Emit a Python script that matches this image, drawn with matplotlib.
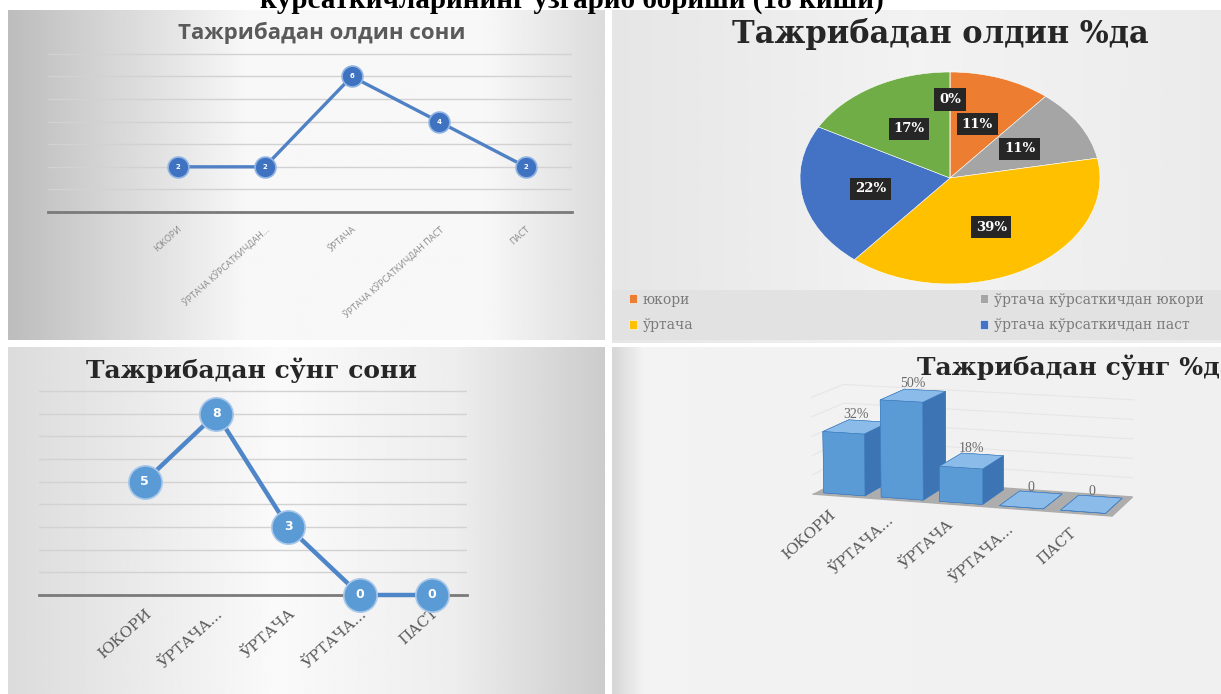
import numpy as np
import matplotlib.pyplot as plt
from matplotlib.patches import Rectangle

W, H = 1221, 694
SERIF = ['Liberation Serif', 'DejaVu Serif']
WIDE_SERIF = ['DejaVu Serif']
SANS = ['Open Sans', 'DejaVu Sans']

PAGE_TITLE = 'кўрсаткичларининг ўзгариб бориши (18 киши)'
levels_full = ['ЮКОРИ', 'ЎРТАЧА КЎРСАТКИЧДАН...', 'ЎРТАЧА', 'ЎРТАЧА КЎРСАТКИЧДАН ПАСТ', 'ПАСТ']
levels_short = ['ЮКОРИ', 'ЎРТАЧА...', 'ЎРТАЧА', 'ЎРТАЧА...', 'ПАСТ']

before_counts = [2, 2, 6, 4, 2]
after_counts = [5, 8, 3, 0, 0]

pie_names = ['юкори', 'ўртача кўрсаткичдан юкори', 'ўртача', 'ўртача кўрсаткичдан паст', 'паст', '']
pie_pct = [11, 11, 39, 22, 17, 0]
pie_colors = ['#ed7d31', '#a5a5a5', '#ffc000', '#4472c4', '#70ad47', '#255e91']

after_pct = [32, 50, 18, 0, 0]
after_pct_text = ['32%', '50%', '18%', '0', '0']

# bar3d face order: bottom, top, front, back, left, right
BAR_FACES = ['#3f7cc0', '#8bbbe8', '#5b9bd5', '#4a86c6', '#4a86c6', '#3d75b4']


def box(x0, y0, x1, y1):
    """Pixel box in the reference (origin top-left) -> figure-fraction rect."""
    return [x0 / W, 1 - y1 / H, (x1 - x0) / W, (y1 - y0) / H]


def panel_bg(rect, stops, values):
    """Grey horizontal gradient behind one of the four screenshots."""
    ax = fig.add_axes(box(*rect), zorder=0)
    g = np.interp(np.linspace(0, 1, 300), stops, values)
    ax.imshow(np.tile(g, (2, 1)), cmap='gray', vmin=0, vmax=1,
              aspect='auto', extent=(0, 1, 0, 1))
    ax.set_axis_off()
    return ax


def line_panel(rect, values, labels, ymax, xlim, color, face, edge, ms, lw,
               value_fs, tick_kw, pad):
    ax = fig.add_axes(box(*rect), facecolor='none', zorder=2)
    x = np.arange(len(values))
    ax.plot(x, values, color=color, lw=lw, marker='o', ms=ms,
            mfc=face, mec=edge, mew=1.2, clip_on=False, zorder=3)
    for xi, v in zip(x, values):
        ax.text(xi, v, str(v), ha='center', va='center', color='white',
                fontweight='bold', fontsize=value_fs, zorder=4, clip_on=False)
    ax.set_xlim(*xlim)
    ax.set_ylim(0, ymax + 0.04)
    ax.set_yticks(range(1, ymax + 1))
    ax.tick_params(axis='y', length=0, labelleft=False)
    ax.grid(axis='y', color='#d2d2d2', lw=1)
    ax.set_axisbelow(True)
    for s in ('top', 'left', 'right'):
        ax.spines[s].set_visible(False)
    ax.spines['bottom'].set(color='#7a7a7a', lw=2)
    ax.set_xticks(x)
    ax.set_xticklabels(labels, rotation=42, ha='right', rotation_mode='anchor', **tick_kw)
    ax.tick_params(axis='x', length=0, pad=pad)
    return ax


fig = plt.figure(figsize=(W / 100, H / 100), dpi=100)
fig.patch.set_facecolor('white')

# backgrounds of the four screenshots
panel_bg((8, 10, 605, 340), [0, 0.4, 0.8, 1], [0.74, 0.97, 0.97, 0.86])
bg_tr = panel_bg((612, 10, 1221, 343), [0, 0.5, 1], [0.90, 0.95, 0.92])
bg_tr.add_patch(Rectangle((0, 0.01), 1, 0.15, transform=bg_tr.transAxes,
                          fc='#e2e2e2', ec='none'))
panel_bg((8, 347, 605, 694), [0, 0.45, 0.75, 1], [0.86, 0.98, 0.93, 0.80])
panel_bg((612, 347, 1221, 694), [0, 0.05, 1], [0.84, 0.95, 0.94])

fig.text(572 / W, 1 - 8 / H, PAGE_TITLE, ha='center', va='baseline',
         fontsize=21, fontweight='bold', family=SERIF, color='black')

# --- top left: counts before ---
line_panel((48, 53, 572, 212), before_counts, levels_full, 7, (-1.49, 4.53),
           '#4f81c4', '#3f72c0', '#8fb4e3', 15, 2.4, 5,
           dict(fontsize=6.5, color='#8a8a8a', family=SANS), 9)
fig.text(322 / W, 1 - 33 / H, 'Тажрибадан олдин сони', ha='center', va='center',
         fontsize=16, fontweight='bold', family=SANS, color='#5a5a5a')

# --- top right: pie before ---
axp = fig.add_axes(box(800, 72, 1100, 284), zorder=2)
wedges, _, pct_texts = axp.pie(pie_pct, colors=pie_colors, startangle=90,
                               counterclock=False, autopct='%d%%', pctdistance=0.54,
                               wedgeprops=dict(edgecolor='white', linewidth=0.4))
axp.set_aspect('auto')
axp.set_xlim(-1, 1)
axp.set_ylim(-1, 1)
for t in pct_texts:
    t.set(color='white', fontweight='bold', fontsize=9.5, family=WIDE_SERIF,
          bbox=dict(boxstyle='square,pad=0.35', fc='#262626', ec='none'))
zx, zy = pct_texts[-1].get_position()
pct_texts[-1].set_position((zx, zy * 0.74 / 0.54))
fig.text(940 / W, 1 - 34 / H, 'Тажрибадан олдин %да', ha='center', va='center',
         fontsize=22, fontweight='bold', family=WIDE_SERIF, color='#262626')
order = [0, 2, 1, 3]
fig.legend([wedges[i] for i in order], [pie_names[i] for i in order], ncol=2,
           loc='lower left', bbox_to_anchor=(616 / W, 1 - 345 / H, 600 / W, 50 / H),
           mode='expand', frameon=False, handlelength=0.6, handleheight=0.6,
           handletextpad=0.4, labelspacing=0.85,
           prop=dict(family=WIDE_SERIF, size=10), labelcolor='#7a7a7a')

# --- bottom left: counts after ---
line_panel((39, 390, 467, 595), after_counts, levels_short, 9, (-1.47, 4.49),
           '#4f86c8', '#5b9bd5', '#a9c8ea', 24, 3.2, 9,
           dict(fontsize=11, color='#5a5a5a', family=WIDE_SERIF), 8)
fig.text(252 / W, 1 - 370 / H, 'Тажрибадан сўнг сони', ha='center', va='center',
         fontsize=18, fontweight='bold', family=WIDE_SERIF, color='#262626')

# --- bottom right: 3D bars after ---
with plt.rc_context({'grid.color': '#e6e6e6', 'grid.linewidth': 0.8}):
    ax3 = fig.add_axes(box(702, 282, 1233, 612), projection='3d',
                       computed_zorder=False, zorder=2)
ax3.set_facecolor('none')
xs = np.arange(len(after_pct))
ax3.bar3d(xs - 0.36, 0.1, 0, 0.72, 0.8, after_pct,
          color=BAR_FACES * len(after_pct), shade=False,
          edgecolor='#3f7cc0', linewidth=0.4)
for xi, v, txt in zip(xs, after_pct, after_pct_text):
    ax3.text(xi, 0.5, v + 3, txt, ha='center', va='bottom', fontsize=10,
             family=SERIF, color='#6a6a6a')
ax3.set_xlim(-0.5, 4.5)
ax3.set_ylim(0, 1)
ax3.set_zlim(0, 55)
ax3.set_box_aspect((5, 1.4, 1.75))
ax3.view_init(elev=11, azim=-72)
ax3.set_xticks(xs)
ax3.set_xticklabels(levels_short, rotation=42, ha='right', va='top',
                    fontsize=11, color='#5a5a5a', family=WIDE_SERIF)
ax3.set_yticks([])
ax3.set_zticks([10, 20, 30, 40, 50])
ax3.set_zticklabels([])
ax3.xaxis.set_pane_color((1, 1, 1, 0))
ax3.yaxis.set_pane_color((1, 1, 1, 0))
ax3.zaxis.set_pane_color((0.68, 0.68, 0.68, 1))
for a in (ax3.xaxis, ax3.yaxis, ax3.zaxis):
    a.line.set_color((1, 1, 1, 0))
    a._axinfo['tick']['inward_factor'] = 0
    a._axinfo['tick']['outward_factor'] = 0
ax3.xaxis._axinfo['grid']['linewidth'] = 0
ax3.yaxis._axinfo['grid']['linewidth'] = 0
fig.text(917 / W, 1 - 367 / H, 'Тажрибадан сўнг %да', ha='left', va='center',
         fontsize=18, fontweight='bold', family=WIDE_SERIF, color='#262626')

fig.savefig('out.png', dpi=100, facecolor=fig.get_facecolor())
